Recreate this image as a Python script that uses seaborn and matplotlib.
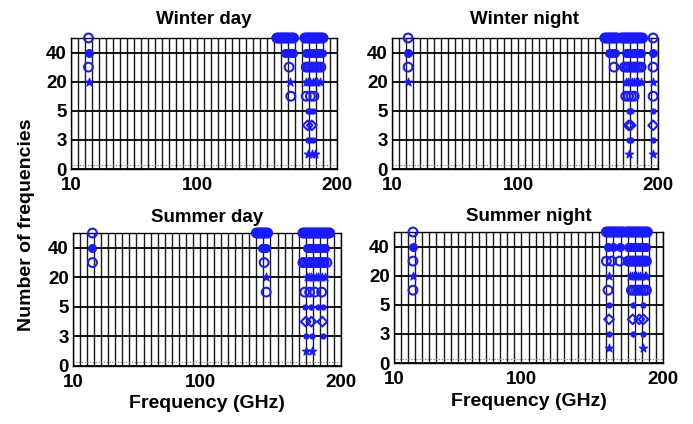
import numpy as np
import pandas as pd
import matplotlib
matplotlib.use("Agg")
import matplotlib.pyplot as plt
import seaborn as sns

sns.set_theme(style="white")
plt.rcParams["font.family"] = ["Liberation Sans", "DejaVu Sans"]
plt.rcParams["font.weight"] = "bold"
plt.rcParams["text.color"] = "black"
plt.rcParams["xtick.color"] = "black"
plt.rcParams["ytick.color"] = "black"
plt.rcParams["axes.labelcolor"] = "black"

# ---- data: selected frequencies (GHz) and the number-of-frequencies set they belong to ----
winter_day_freq = (
    [22.5] * 4
    + [157, 158, 159, 160, 161, 162, 163, 164, 165, 166, 167, 168, 169]
    + [163, 165, 167, 168.5] + [165.8] + [166.5] + [167]
    + [177, 178, 179, 180, 181, 182, 183, 184, 185, 186, 187, 188, 189, 190]
    + [178, 179.5, 181, 182.5, 184, 185.5, 187, 189]
    + [178, 179.5, 181, 182.5, 184, 185.5, 187, 188.5]
    + [178, 179.5, 181, 182.5, 184, 185.5, 187.5]
    + [178, 181, 183.5] + [179, 181, 183] + [179, 182] + [179, 181, 183] + [179.5, 182, 184]
)
winter_day_count = (
    [50, 40, 30, 20]
    + [50] * 13
    + [40] * 4 + [30] + [20] + [10]
    + [50] * 14
    + [40] * 8
    + [30] * 8
    + [20] * 7
    + [10] * 3 + [5] * 3 + [4] * 2 + [3] * 3 + [1] * 3
)

winter_night_freq = (
    [21.5] * 4
    + [162, 163, 164, 165, 166, 167, 168, 169, 170, 171]
    + [165, 167, 169] + [168.6]
    + [174, 175, 176, 177, 178, 179, 180, 181, 182, 183, 184, 185, 186, 187, 188, 189]
    + [177, 178.5, 180, 181.5, 183, 184.5, 186, 188]
    + [176, 177.5, 179, 180.5, 182, 183.5, 185, 186.5, 188]
    + [177, 178.5, 180, 181.5, 183, 184.5, 186, 188]
    + [177, 179, 181, 183] + [179, 181] + [179, 180.5] + [179, 181] + [179]
    + [196.5] * 9
)
winter_night_count = (
    [50, 40, 30, 20]
    + [50] * 10
    + [40] * 3 + [30]
    + [50] * 16
    + [40] * 8
    + [30] * 9
    + [20] * 8
    + [10] * 4 + [5] * 2 + [4] * 2 + [3] * 2 + [1]
    + [50, 40, 30, 20, 10, 5, 4, 3, 1]
)

summer_day_freq = (
    [23.8] * 3
    + [140, 141, 142, 143, 144, 145, 146, 147, 148]
    + [144, 145.5, 147] + [145.5] + [147] + [147]
    + [173, 174, 175, 176, 177, 178, 179, 180, 181, 182, 183, 184, 185, 186, 187, 188, 189, 190, 191, 192]
    + [176, 177.5, 179, 180.5, 182, 183.5, 185, 186.5, 188.5]
    + [173, 174.5, 176, 177.5, 179, 180.5, 182, 183.5, 185, 186.5, 188, 190]
    + [176, 177.5, 179, 180.5, 182, 183.5, 185, 186.5, 188.5]
    + [174.3, 177.8, 181.4, 186.3]
    + [174.3, 179, 183.7, 187.3]
    + [175, 179, 186.8]
    + [175, 179.7, 187.3]
    + [175, 179.7]
)
summer_day_count = (
    [50, 40, 30]
    + [50] * 9
    + [40] * 3 + [30] + [20] + [10]
    + [50] * 20
    + [40] * 9
    + [30] * 12
    + [20] * 9
    + [10] * 4 + [5] * 4 + [4] * 3 + [3] * 3 + [1] * 2
)

summer_night_freq = (
    [23.4] * 5
    + [160, 161, 162, 163, 164, 165, 166, 167, 168, 169, 170, 171, 172]
    + [161.2, 164.7, 169.4] + [160, 163.7, 169.4]
    + [161.9, 161.2, 161.9, 161.9, 161.9, 161.9]
    + [174, 175, 176, 177, 178, 179, 180, 181, 182, 183, 184, 185, 186, 187, 188, 189]
    + [175.3, 176.5, 177.7, 179, 180.2, 181.4, 182.6, 183.8, 185, 186.2, 187.3, 188.3]
    + [175.3, 176.5, 177.7, 179, 180.2, 181.4, 182.6, 183.8, 185, 186.2, 187.3, 188.3]
    + [176.5, 178, 179.5, 181, 182.5, 184, 185.5, 187, 188.3]
    + [177.7, 179.3, 181, 182.6, 184.3, 186, 187.5, 188.3]
    + [178.6, 185.9] + [178.6, 183.3, 186.2] + [178.6, 185.9] + [185.9]
)
summer_night_count = (
    [50, 40, 30, 20, 10]
    + [50] * 13
    + [40] * 3 + [30] * 3
    + [20, 10, 5, 4, 3, 1]
    + [50] * 16
    + [40] * 12
    + [30] * 12
    + [20] * 9
    + [10] * 8
    + [5] * 2 + [4] * 3 + [3] * 2 + [1]
)

titles = ["Winter day", "Winter night", "Summer day", "Summer night"]
y_ticks = [0, 3, 5, 20, 40]
x_ticks = [10, 100, 200]

BLUE = "#1a1aff"

# marker, filled, size for each set size
marker_style = {
    50: ("o", False, 40),
    40: ("o", True, 32),
    30: ("o", False, 40),
    20: ("*", True, 40),
    10: ("o", False, 40),
    5: ("o", True, 14),
    4: ("D", False, 24),
    3: ("o", True, 14),
    1: ("*", True, 40),
}

# stretched y scale: each set size gets its own equal-height slot
_counts = np.array([0, 1, 3, 4, 5, 10, 20, 30, 40, 50, 60], dtype=float)
_slots = np.array([0, 0.5, 1, 1.5, 2, 2.5, 3, 3.5, 4, 4.5, 5], dtype=float)


def forward(v):
    return np.interp(v, _counts, _slots)


def inverse(v):
    return np.interp(v, _slots, _counts)


fig = plt.figure(figsize=(6.93, 4.24), dpi=100)
rects = [
    [71 / 693, 1 - 169 / 424, 266 / 693, 131 / 424],
    [392 / 693, 1 - 169 / 424, 266 / 693, 131 / 424],
    [73 / 693, 1 - 366 / 424, 268 / 693, 133 / 424],
    [394 / 693, 1 - 363 / 424, 269 / 693, 131 / 424],
]
series = [
    (winter_day_freq, winter_day_count),
    (winter_night_freq, winter_night_count),
    (summer_day_freq, summer_day_count),
    (summer_night_freq, summer_night_count),
]

for i, (title, (fr, ct), rect) in enumerate(zip(titles, series, rects)):
    ax = fig.add_axes(rect)
    ax.set_yscale("function", functions=(forward, inverse))
    df = pd.DataFrame({"freq": fr, "count": ct})
    for c, (m, filled, size) in marker_style.items():
        sub = df[df["count"] == c]
        if sub.empty:
            continue
        if filled:
            sns.scatterplot(data=sub, x="freq", y="count", ax=ax, marker=m, s=size,
                            color=BLUE, edgecolor=BLUE, linewidth=0.8,
                            clip_on=False, zorder=4, legend=False)
        else:
            sns.scatterplot(data=sub, x="freq", y="count", ax=ax, marker=m, s=size,
                            facecolor="none", edgecolor=BLUE, linewidth=1.5,
                            clip_on=False, zorder=4, legend=False)
    ax.set_xlim(10, 200)
    ax.set_ylim(0, 50)
    ax.set_xticks(x_ticks)
    ax.set_xticklabels([str(t) for t in x_ticks])
    ax.set_xticks(np.arange(10, 201, 5), minor=True)
    ax.set_yticks(y_ticks)
    ax.set_yticklabels([str(t) for t in y_ticks])
    ax.set_axisbelow(True)
    ax.grid(axis="x", which="both", color="#1a1a1a", lw=1.0)
    ax.grid(axis="y", which="major", color="black", lw=1.3)
    ax.plot([0, 1], [0.03, 0.03], transform=ax.transAxes, color="#777777",
            lw=0.8, ls=(0, (1, 1.5)), zorder=2)
    ax.tick_params(axis="both", which="both", length=0, labelsize=13.5)
    ax.tick_params(axis="x", pad=6)
    ax.tick_params(axis="y", pad=3)
    for lab in ax.get_xticklabels() + ax.get_yticklabels():
        lab.set_fontweight("bold")
    for sp in ax.spines.values():
        sp.set_color("black")
        sp.set_linewidth(1.0)
    ax.set_title(title, fontsize=13.5, fontweight="bold", pad=10 if i < 2 else 8)
    ax.set_ylabel("")
    if i >= 2:
        ax.set_xlabel("Frequency (GHz)", fontsize=14, fontweight="bold", labelpad=3)
    else:
        ax.set_xlabel("")

fig.text(0.038, 0.47, "Number of frequencies", rotation=90, ha="center", va="center",
         fontsize=14, fontweight="bold")

fig.savefig("out.png", dpi=100, facecolor="white")
